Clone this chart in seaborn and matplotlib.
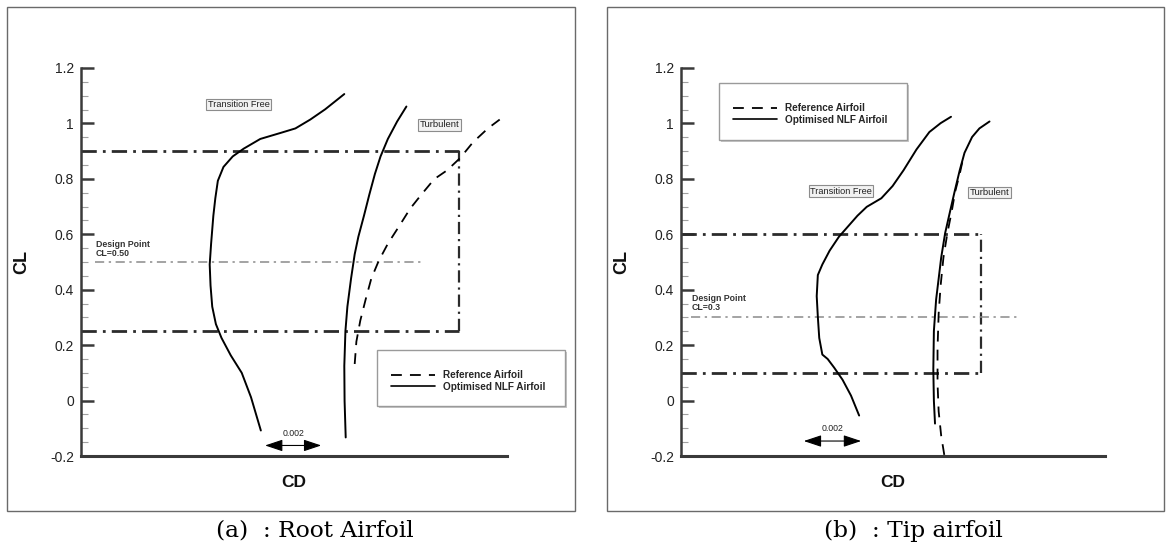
import numpy as np
import pandas as pd
import matplotlib
matplotlib.use("Agg")
import matplotlib.pyplot as plt
import seaborn as sns
from matplotlib.patches import Rectangle
from matplotlib.lines import Line2D

sns.set_theme(style="white")
plt.rcParams['font.family'] = ['Liberation Sans', 'DejaVu Sans']

# ---------------- data: (a) Root airfoil ----------------
root_tf_cd = [0.01040, 0.01005, 0.00972, 0.00933, 0.00900, 0.00880, 0.00867, 0.00861,
              0.00858, 0.00863, 0.00871, 0.00878, 0.00887, 0.00907, 0.00940, 0.00979,
              0.01038, 0.01111, 0.01163, 0.01216, 0.01269, 0.01337]
root_tf_cl = [-0.108, 0.012, 0.100, 0.163, 0.226, 0.276, 0.339, 0.415,
              0.491, 0.566, 0.667, 0.730, 0.793, 0.843, 0.881, 0.909,
              0.944, 0.966, 0.982, 1.014, 1.051, 1.106]
root_turb_cd = [0.01342, 0.01338, 0.01337, 0.01341, 0.01348, 0.01361, 0.01374, 0.01387,
                0.01407, 0.01426, 0.01446, 0.01466, 0.01492, 0.01525, 0.01558]
root_turb_cl = [-0.133, -0.001, 0.125, 0.251, 0.339, 0.440, 0.528, 0.591,
                0.667, 0.743, 0.818, 0.881, 0.944, 1.007, 1.061]
root_ref_cd = [0.01374, 0.01380, 0.01394, 0.01413, 0.01433, 0.01459, 0.01492, 0.01532,
               0.01571, 0.01611, 0.01657, 0.01703, 0.01749, 0.01795, 0.01848, 0.01890]
root_ref_cl = [0.132, 0.213, 0.289, 0.365, 0.440, 0.503, 0.566, 0.629,
               0.692, 0.743, 0.799, 0.831, 0.875, 0.932, 0.982, 1.014]
root_box = dict(cl_low=0.25, cl_high=0.90, cd_right=0.01746)
root_design = dict(cl=0.50, cd_start=0.0045, cd_end=0.01611, label="Design Point\nCL=0.50")

# ---------------- data: (b) Tip airfoil ----------------
tip_tf_cd = [0.01034, 0.01005, 0.00975, 0.00945, 0.00922, 0.00903, 0.00892, 0.00887,
             0.00883, 0.00887, 0.00903, 0.00929, 0.00962, 0.00995, 0.01028, 0.01061,
             0.01113, 0.01153, 0.01192, 0.01238, 0.01284, 0.01324, 0.01361]
tip_tf_cl = [-0.054, 0.018, 0.075, 0.119, 0.150, 0.166, 0.226, 0.302,
             0.377, 0.453, 0.491, 0.541, 0.591, 0.629, 0.667, 0.699,
             0.730, 0.774, 0.831, 0.906, 0.969, 1.001, 1.024]
tip_turb_cd = [0.01304, 0.01300, 0.01298, 0.01300, 0.01308, 0.01317, 0.01326, 0.01340,
               0.01357, 0.01374, 0.01392, 0.01409, 0.01436, 0.01462, 0.01498]
tip_turb_cl = [-0.083, -0.001, 0.113, 0.251, 0.365, 0.440, 0.516, 0.604,
               0.680, 0.755, 0.831, 0.894, 0.951, 0.982, 1.007]
tip_ref_cd = [0.01337, 0.01326, 0.01317, 0.01313, 0.01313, 0.01317, 0.01324, 0.01334,
              0.01348, 0.01363, 0.01376, 0.01392, 0.01403, 0.01416]
tip_ref_cl = [-0.196, -0.127, -0.039, 0.062, 0.188, 0.314, 0.415, 0.516,
              0.604, 0.680, 0.755, 0.818, 0.869, 0.880]
tip_box = dict(cl_low=0.10, cl_high=0.60, cd_right=0.01466)
tip_design = dict(cl=0.30, cd_start=0.00436, cd_end=0.01607, label="Design Point\nCL=0.3")

yticks = [-0.2, 0, 0.2, 0.4, 0.6, 0.8, 1.0, 1.2]
ytick_labels = ["-0.2", "0", "0.2", "0.4", "0.6", "0.8", "1", "1.2"]
legend_labels = ["Reference Airfoil", "Optimised NLF Airfoil"]
captions = ["(a)  : Root Airfoil", "(b)  : Tip airfoil"]

W, H = 1166, 547
fig = plt.figure(figsize=(W / 100, H / 100), dpi=100)

def fx(px):
    return px / W

def fy(py):
    return 1 - py / H

# panel frames
for x0, x1 in [(7, 575), (607, 1164)]:
    fig.patches.append(Rectangle((fx(x0), fy(511)), fx(x1 - x0), (511 - 7) / H,
                                 transform=fig.transFigure, fill=False,
                                 edgecolor='#6a6a6a', lw=1.0, zorder=0))

panels = [
    dict(ax_px=(81, 507), xlim=(0.004, 0.01916),
         tf=(root_tf_cd, root_tf_cl), turb=(root_turb_cd, root_turb_cl), ref=(root_ref_cd, root_ref_cl),
         box=root_box, design=root_design, design_text_cl=0.578,
         tf_label=(0.00961, 1.068), turb_label=(0.01675, 0.995),
         arrow=(0.01055, 0.01255, -0.162), arrow_text=(0.01155, -0.118),
         legbox=(377, 350, 565, 406), leg_anchor=(391, 381),
         caption_x=315),
    dict(ax_px=(681, 1105), xlim=(0.004, 0.01909),
         tf=(tip_tf_cd, tip_tf_cl), turb=(tip_turb_cd, tip_turb_cl), ref=(tip_ref_cd, tip_ref_cl),
         box=tip_box, design=tip_design, design_text_cl=0.385,
         tf_label=(0.0097, 0.755), turb_label=(0.01498, 0.751),
         arrow=(0.00837, 0.01041, -0.146), arrow_text=(0.00939, -0.10),
         legbox=(719, 83, 907, 140), leg_anchor=(733, 114),
         caption_x=913),
]

for p, cap in zip(panels, captions):
    x0, x1 = p['ax_px']
    ax = fig.add_axes([fx(x0), fy(456), fx(x1 - x0), (456 - 68) / H])
    ax.set_facecolor('none')
    ax.set_xlim(*p['xlim'])
    ax.set_ylim(-0.2, 1.2)

    df_tf = pd.DataFrame({'CD': p['tf'][0], 'CL': p['tf'][1]})
    df_tu = pd.DataFrame({'CD': p['turb'][0], 'CL': p['turb'][1]})
    df_rf = pd.DataFrame({'CD': p['ref'][0], 'CL': p['ref'][1]})
    sns.lineplot(data=df_rf, x='CD', y='CL', sort=False, estimator=None, ax=ax,
                 color='black', lw=1.3, dashes=False, linestyle=(0, (6, 4.5)), zorder=3)
    sns.lineplot(data=df_tf, x='CD', y='CL', sort=False, estimator=None, ax=ax,
                 color='black', lw=1.4, zorder=4)
    sns.lineplot(data=df_tu, x='CD', y='CL', sort=False, estimator=None, ax=ax,
                 color='black', lw=1.4, zorder=4)

    # design envelope box
    b = p['box']
    ls_box = (0, (5.5, 2.2, 1, 2.2))
    ax.plot([p['xlim'][0], b['cd_right']], [b['cl_high'], b['cl_high']], color='#2b2b2b', lw=2.0, linestyle=ls_box, zorder=2)
    ax.plot([p['xlim'][0], b['cd_right']], [b['cl_low'], b['cl_low']], color='#2b2b2b', lw=2.0, linestyle=ls_box, zorder=2)
    ax.plot([b['cd_right'], b['cd_right']], [b['cl_low'], b['cl_high']], color='#2b2b2b', lw=1.6, linestyle=ls_box, zorder=2)

    # design point line
    d = p['design']
    ax.plot([d['cd_start'], d['cd_end']], [d['cl'], d['cl']], color='#8a8a8a', lw=1.1,
            linestyle=(0, (6, 3, 1.5, 3)), zorder=2)
    ax.text(d['cd_start'] + 0.00002, p['design_text_cl'], d['label'], fontsize=6.3, fontweight='bold',
            color='#333333', va='top', ha='left', linespacing=0.95)

    # labels with boxes
    bbox_kw = dict(boxstyle='square,pad=0.15', facecolor='#f2f2f2', edgecolor='#8c8c8c', lw=0.8)
    ax.text(*p['tf_label'], "Transition Free", fontsize=6.6, ha='center', va='center', color='#222222', bbox=bbox_kw)
    ax.text(*p['turb_label'], "Turbulent", fontsize=6.8, ha='center', va='center', color='#222222', bbox=bbox_kw)

    # scale arrow
    a0, a1, ay = p['arrow']
    ax.annotate('', xy=(a1, ay), xytext=(a0, ay),
                arrowprops=dict(arrowstyle='<|-|>,head_length=0.9,head_width=0.3', color='black',
                                lw=0.8, shrinkA=0, shrinkB=0))
    ax.text(*p['arrow_text'], "0.002", fontsize=6.3, ha='center', va='center', color='#222222')

    # axes styling
    for s in ['top', 'right']:
        ax.spines[s].set_visible(False)
    ax.spines['left'].set_color('#3a3a3a')
    ax.spines['left'].set_linewidth(1.8)
    ax.spines['bottom'].set_color('#3a3a3a')
    ax.spines['bottom'].set_linewidth(2.2)
    ax.set_yticks(yticks)
    ax.set_yticklabels(ytick_labels)
    ax.set_yticks(np.arange(-0.2, 1.2001, 0.05), minor=True)
    ax.set_xticks([])
    ax.tick_params(axis='y', which='major', direction='in', length=9, width=1.8, color='#3a3a3a',
                   labelsize=10, labelcolor='#222222', pad=5, left=True)
    ax.tick_params(axis='y', which='minor', direction='in', length=5, width=0.8, color='#a0a0a0', left=True)
    ax.set_xlabel('CD', fontsize=12.5, fontweight='bold', labelpad=14, color='#111111')
    ax.set_ylabel('CL', fontsize=13, fontweight='bold', labelpad=14, color='#111111')
    ax.grid(False)

    # legend box and legend
    lx0, ly0, lx1, ly1 = p['legbox']
    fig.patches.append(Rectangle((fx(lx0 + 1.5), fy(ly1 + 1.5)), fx(lx1 - lx0), (ly1 - ly0) / H,
                                 transform=fig.transFigure, facecolor='#c8c8c8', edgecolor='none', zorder=5))
    fig.patches.append(Rectangle((fx(lx0), fy(ly1)), fx(lx1 - lx0), (ly1 - ly0) / H,
                                 transform=fig.transFigure, facecolor='white', edgecolor='#9a9a9a', lw=1.0, zorder=6))
    handles = [Line2D([], [], color='black', lw=1.3, linestyle=(0, (6, 4.5))),
               Line2D([], [], color='black', lw=1.2)]
    leg = fig.legend(handles, legend_labels, loc='center left',
                     bbox_to_anchor=(fx(p['leg_anchor'][0]), fy(p['leg_anchor'][1])),
                     frameon=False, prop=dict(weight='bold', size=7.2),
                     handlelength=4.4, handletextpad=0.8, labelspacing=0.15, borderpad=0, borderaxespad=0)
    leg.set_zorder(7)

    # caption
    fig.text(fx(p['caption_x']), fy(531), cap, fontsize=16.8, family=['DejaVu Serif', 'Liberation Serif'],
             ha='center', va='center', color='black')

fig.savefig('out.png', dpi=100)
